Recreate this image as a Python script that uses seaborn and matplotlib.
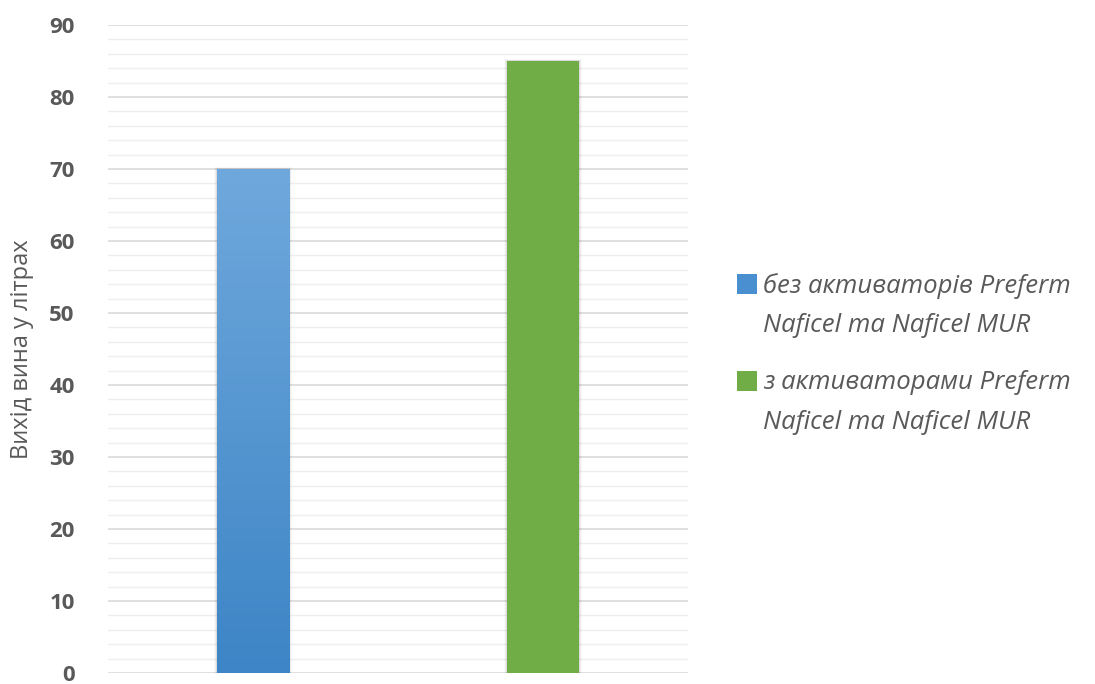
import numpy as np
import pandas as pd
import matplotlib
matplotlib.use("Agg")
import matplotlib.pyplot as plt
import seaborn as sns
from matplotlib.patches import Patch, Rectangle
from matplotlib.legend_handler import HandlerPatch
from matplotlib.colors import LinearSegmentedColormap

# ---- data ----
series = ["без активаторів Preferm\nNaficel та Naficel MUR",
          "з активаторами Preferm\nNaficel та Naficel MUR"]
values = [70, 85]
y_label = "Вихід вина у літрах"
y_ticks = [0, 10, 20, 30, 40, 50, 60, 70, 80, 90]

colors = ["#5b9bd5", "#70ad47"]

sns.set_theme(style="white")
plt.rcParams['font.family'] = ['Open Sans', 'DejaVu Sans']

df = pd.DataFrame({"series": series, "value": values})

fig = plt.figure(figsize=(10.95, 6.84), dpi=100)
ax = fig.add_axes([108/1095, 1-673/684, 580/1095, (673-25)/684])

sns.barplot(data=df, x="series", y="value", hue="series", palette=colors,
            width=0.25, legend=False, ax=ax, saturation=1)

for i, p in enumerate(list(ax.patches)):
    p.set_linewidth(0)
    p.set_edgecolor("none")
    x0, y0 = p.get_x(), p.get_y()
    w, h = p.get_width(), p.get_height()
    for k, a in enumerate([0.07, 0.045, 0.025]):
        d = 0.0035 * (k + 1)
        ax.add_patch(Rectangle((x0 - d, y0), w + 2 * d, h + 0.1 * (k + 1),
                               facecolor="black", alpha=a, lw=0, zorder=1.5))
    p.set_zorder(3)
    if i == 0:
        grad = np.linspace(0, 1, 256).reshape(-1, 1)
        cmap = LinearSegmentedColormap.from_list("g", ["#3d85c6", "#6fa8dc"])
        im = ax.imshow(grad, extent=[x0, x0 + w, y0, y0 + h], origin="lower",
                       aspect="auto", cmap=cmap, zorder=4)
        im.set_clip_path(p)

ax.set_xlim(-0.5, 1.5)
ax.set_ylim(0, 90)
ax.set_yticks(y_ticks)
ax.set_yticks(np.arange(0, 91, 2), minor=True)
ax.grid(axis="y", which="major", color="#d9d9d9", lw=1.2, zorder=0)
ax.grid(axis="y", which="minor", color="#eeeeee", lw=1.0, zorder=0)
ax.set_axisbelow(True)
ax.set_xticks([])
ax.set_xlabel("")
for s in ax.spines.values():
    s.set_visible(False)
ax.tick_params(axis="y", which="both", length=0, pad=24)
for t in ax.get_yticklabels():
    t.set_fontsize(16)
    t.set_fontweight("bold")
    t.set_color("#595959")
ax.set_ylabel(y_label, fontsize=17, color="#595959", labelpad=11)


def top_square(legend, orig_handle, xdescent, ydescent, width, height, fontsize):
    s = 14
    return Rectangle((-xdescent + width - s, -ydescent + height + 3), s, s)


handles = [Patch(facecolor=c, edgecolor="none") for c in ["#4a90d0", colors[1]]]
leg = fig.legend(handles, series, loc="upper left",
                 bbox_to_anchor=(718/1095, 1-250/684), frameon=False,
                 handlelength=0.6, handleheight=0.6, handletextpad=0.25,
                 labelspacing=1.25,
                 handler_map={Patch: HandlerPatch(patch_func=top_square)},
                 prop={"family": "Open Sans", "style": "italic", "size": 18.5})
for t in leg.get_texts():
    t.set_color("#595959")
    t.set_linespacing(1.75)

fig.savefig("out.png", dpi=100)
